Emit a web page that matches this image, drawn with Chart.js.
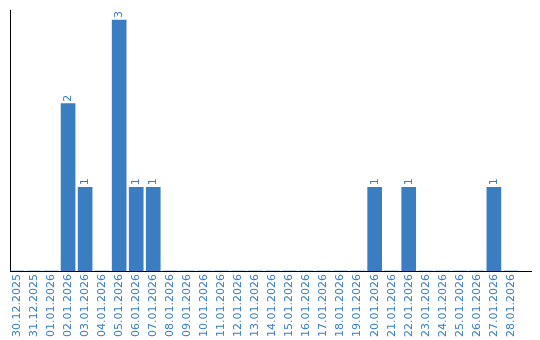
<!DOCTYPE html>
<html><head><meta charset="utf-8">
<script src="https://cdn.jsdelivr.net/npm/chart.js@4"></script>
<style>html,body{margin:0;padding:0;background:#fff}#wrap{width:540px;height:340px}</style>
</head><body><div id="wrap"><canvas id="c" width="540" height="340"></canvas></div>
<script>
const categories = ["30.12.2025","31.12.2025","01.01.2026","02.01.2026","03.01.2026","04.01.2026","05.01.2026","06.01.2026","07.01.2026","08.01.2026","09.01.2026","10.01.2026","11.01.2026","12.01.2026","13.01.2026","14.01.2026","15.01.2026","16.01.2026","17.01.2026","18.01.2026","19.01.2026","20.01.2026","21.01.2026","22.01.2026","23.01.2026","24.01.2026","25.01.2026","26.01.2026","27.01.2026","28.01.2026"];
const counts = [0,0,0,2,1,0,3,1,1,0,0,0,0,0,0,0,0,0,0,0,0,1,0,1,0,0,0,0,1,0];

const BLUE = '#3b7dc1';
const FONT = 'DejaVu Sans';

const valueLabels = {
  id: 'valueLabels',
  afterDatasetsDraw(chart) {
    const ctx = chart.ctx;
    const meta = chart.getDatasetMeta(0);
    ctx.save();
    ctx.fillStyle = BLUE;
    ctx.font = '11px "' + FONT + '"';
    ctx.textAlign = 'left';
    ctx.textBaseline = 'middle';
    meta.data.forEach((bar, i) => {
      const v = counts[i];
      if (!v) return;
      ctx.save();
      ctx.translate(bar.x, bar.y - 2);
      ctx.rotate(-Math.PI / 2);
      ctx.fillText(String(v), 0, 0);
      ctx.restore();
    });
    ctx.restore();
  }
};

new Chart(document.getElementById('c'), {
  type: 'bar',
  data: {
    datasets: [{
      data: counts.map((v, i) => ({x: i, y: v})),
      backgroundColor: BLUE,
      borderWidth: 0,
      barThickness: 14
    }]
  },
  options: {
    responsive: false,
    animation: false,
    layout: {padding: {top: 10, left: 10, right: 9, bottom: 0}},
    plugins: {legend: {display: false}, tooltip: {enabled: false}},
    scales: {
      x: {
        type: 'linear',
        min: -0.41,
        max: 30.18,
        offset: false,
        grid: {display: false, drawTicks: false},
        border: {display: true, color: '#000', width: 1},
        afterBuildTicks(scale) {
          scale.ticks = categories.map((c, i) => ({value: i}));
        },
        ticks: {
          autoSkip: false,
          minRotation: 90,
          maxRotation: 90,
          padding: 3,
          color: BLUE,
          font: {family: FONT, size: 11},
          callback: (v) => categories[v]
        }
      },
      y: {
        min: 0,
        max: 3.12,
        grid: {display: false, drawTicks: false},
        border: {display: true, color: '#000', width: 1},
        ticks: {display: false}
      }
    }
  },
  plugins: [valueLabels]
});
</script>
</body></html>
